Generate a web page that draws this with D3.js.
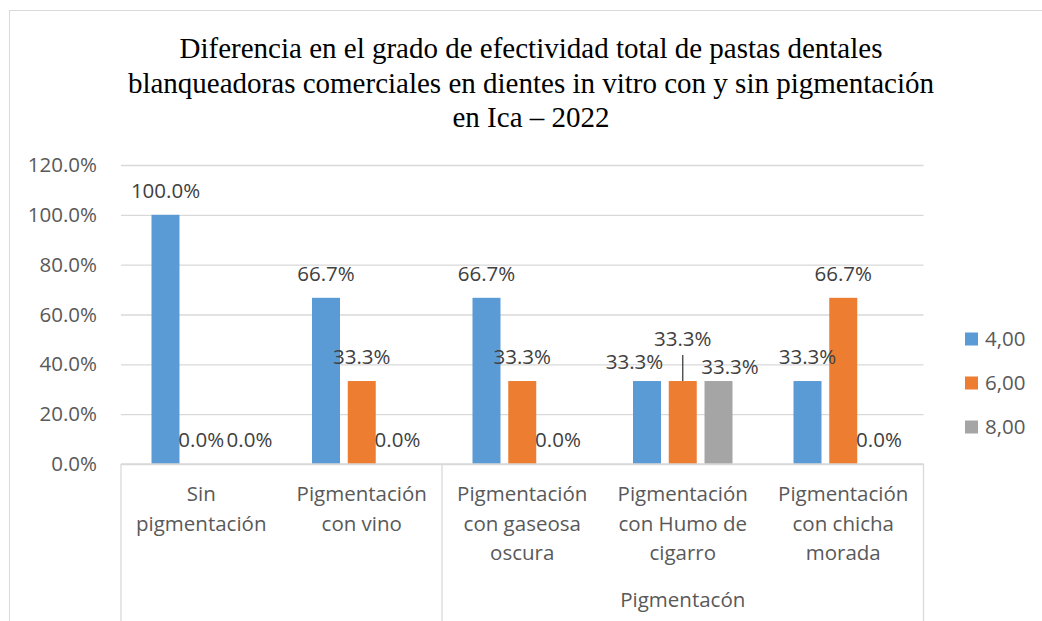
<!DOCTYPE html>
<html>
<head>
<meta charset="utf-8">
<script src="https://cdn.jsdelivr.net/npm/d3@7"></script>
<style>
  body { margin: 0; background: #fff; }
  svg { display: block; }
</style>
</head>
<body>
<div id="chart"></div>
<script>
// data
var categoryLines = [
    ['Sin', 'pigmentación'],
    ['Pigmentación', 'con vino'],
    ['Pigmentación', 'con gaseosa', 'oscura'],
    ['Pigmentación', 'con Humo de', 'cigarro'],
    ['Pigmentación', 'con chicha', 'morada']
];
var groupNames = ['', 'Pigmentacón'];
var groupSpans = [[0, 1], [2, 4]];
var seriesNames = ['4,00', '6,00', '8,00'];
var values400 = [1.000, 0.667, 0.667, 0.333, 0.333];
var values600 = [0.000, 0.333, 0.333, 0.333, 0.667];
var values800 = [0.000, 0.000, 0.000, 0.333, 0.000];
var yTicks = [0, 0.2, 0.4, 0.6, 0.8, 1.0, 1.2];
var titleLines = [
    'Diferencia en el grado de efectividad total de pastas dentales',
    'blanqueadoras comerciales en dientes in vitro con y sin pigmentación',
    'en Ica – 2022'
];

var dim = {
    'width': 1042,
    'height': 621
};
var plot = { left: 121, right: 923.5, top: 165, bottom: 464 };
var colors = ['#5B9BD5', '#ED7D31', '#A5A5A5'];
var textColor = '#595959';
var lineColor = '#D9D9D9';
var font = "'Open Sans', sans-serif";
var fontSize = 20.5;

// hand-placed label nudges from the original (series-category): [dx, dy]
var nudges = {
    '0-3': [-12.5, 4.5],
    '1-3': [0, -18],
    '2-3': [11.5, 10],
    '2-0': [12.5, 0]
};

var svg = d3.select('#chart').append('svg')
    .attr('width', dim.width)
    .attr('height', dim.height);

// chart frame
svg.append('rect')
    .attr('x', 9.5).attr('y', 10.5)
    .attr('width', 1100).attr('height', 700)
    .attr('fill', '#fff')
    .attr('stroke', lineColor);

// title
svg.append('g').selectAll('text')
    .data(titleLines).enter()
    .append('text')
    .attr('x', 531)
    .attr('y', (d, i) => 58 + i * 34.5)
    .attr('text-anchor', 'middle')
    .attr('font-family', "'Liberation Serif', 'Times New Roman', serif")
    .attr('font-size', 29)
    .attr('fill', '#000')
    .text(d => d);

var x0 = d3.scaleBand()
    .domain(d3.range(categoryLines.length))
    .range([plot.left, plot.right]);

var x1 = d3.scaleBand()
    .domain(seriesNames)
    .range([30.5, 130])
    .paddingInner(0.217);

var y = d3.scaleLinear()
    .domain([0, 1.2])
    .range([plot.bottom, plot.top]);

// gridlines + y labels
var yAxis = svg.append('g')
    .attr('transform', `translate(${plot.left},0)`)
    .call(d3.axisLeft(y)
        .tickValues(yTicks)
        .tickFormat(d3.format('.1%'))
        .tickSizeInner(-(plot.right - plot.left))
        .tickSizeOuter(0)
        .tickPadding(24));
yAxis.select('.domain').remove();
yAxis.selectAll('line').attr('stroke', lineColor).attr('stroke-width', 1.3);
yAxis.selectAll('text')
    .attr('font-family', font)
    .attr('font-size', fontSize)
    .attr('fill', textColor);

// bars
var series = [values400, values600, values800];
var barData = [];
series.forEach(function (vals, s) {
    vals.forEach(function (v, c) {
        barData.push({ s: s, c: c, v: v });
    });
});

svg.append('g').selectAll('rect')
    .data(barData.filter(d => d.v > 0)).enter()
    .append('rect')
    .attr('x', d => x0(d.c) + x1(seriesNames[d.s]))
    .attr('y', d => y(d.v))
    .attr('width', x1.bandwidth())
    .attr('height', d => y(0) - y(d.v))
    .attr('fill', d => colors[d.s]);

// data labels
function barMid(d) {
    return x0(d.c) + x1(seriesNames[d.s]) + x1.bandwidth() / 2;
}
function labelX(d) {
    var n = nudges[d.s + '-' + d.c] || [0, 0];
    return barMid(d) + n[0];
}
function labelY(d) {
    var n = nudges[d.s + '-' + d.c] || [0, 0];
    return y(d.v) - 24 + n[1];
}

// leader line for the moved label
svg.append('g').selectAll('line')
    .data(barData.filter(d => d.s === 1 && d.c === 3)).enter()
    .append('line')
    .attr('x1', barMid)
    .attr('x2', barMid)
    .attr('y1', d => labelY(d) + 16)
    .attr('y2', d => y(d.v))
    .attr('stroke', '#404040')
    .attr('stroke-width', 1.3);

svg.append('g').selectAll('text')
    .data(barData).enter()
    .append('text')
    .attr('x', labelX)
    .attr('y', labelY)
    .attr('dy', '0.35em')
    .attr('text-anchor', 'middle')
    .attr('font-family', font)
    .attr('font-size', fontSize)
    .attr('fill', '#404040')
    .text(d => d3.format('.1%')(d.v));

// category axis
var axisG = svg.append('g');
axisG.append('line')
    .attr('x1', plot.left).attr('x2', plot.right)
    .attr('y1', y(0)).attr('y2', y(0))
    .attr('stroke', lineColor).attr('stroke-width', 1.3);

var splits = [0, groupSpans[1][0], categoryLines.length];
axisG.selectAll('.split')
    .data(splits).enter()
    .append('line')
    .attr('x1', d => d === categoryLines.length ? plot.right : x0(d))
    .attr('x2', d => d === categoryLines.length ? plot.right : x0(d))
    .attr('y1', y(0)).attr('y2', 621)
    .attr('stroke', lineColor).attr('stroke-width', 1.3);

var catLabels = axisG.selectAll('.cat')
    .data(categoryLines).enter()
    .append('text')
    .attr('text-anchor', 'middle')
    .attr('font-family', font)
    .attr('font-size', fontSize)
    .attr('fill', textColor);
catLabels.selectAll('tspan')
    .data((d, i) => d.map(t => ({ t: t, i: i }))).enter()
    .append('tspan')
    .attr('x', d => x0(d.i) + x0.bandwidth() / 2)
    .attr('y', (d, j) => 501 + j * 29.5)
    .text(d => d.t);

axisG.selectAll('.grp')
    .data(groupNames).enter()
    .append('text')
    .attr('x', (d, i) => (x0(groupSpans[i][0]) + x0(groupSpans[i][1]) + x0.bandwidth()) / 2)
    .attr('y', 607)
    .attr('text-anchor', 'middle')
    .attr('font-family', font)
    .attr('font-size', fontSize)
    .attr('fill', textColor)
    .text(d => d);

// legend
var legend = svg.append('g').selectAll('g')
    .data(seriesNames).enter()
    .append('g')
    .attr('transform', (d, i) => `translate(965,${339 + i * 44})`);
legend.append('rect')
    .attr('x', 0).attr('y', -6.5)
    .attr('width', 13).attr('height', 13)
    .attr('fill', (d, i) => colors[i]);
legend.append('text')
    .attr('x', 20)
    .attr('dy', '0.35em')
    .attr('font-family', font)
    .attr('font-size', fontSize)
    .attr('fill', textColor)
    .text(d => d);
</script>
</body>
</html>
